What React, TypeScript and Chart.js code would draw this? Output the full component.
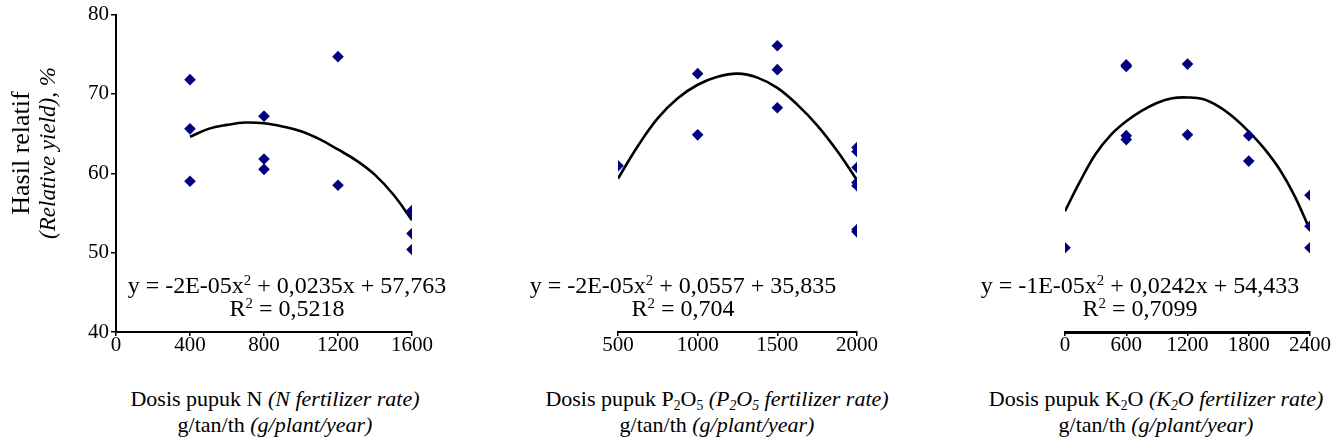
import React, { useEffect, useRef } from "react";
import { Chart, registerables } from "chart.js";

Chart.register(...registerables);

// ---- Data ----
const nDose = [400, 400, 400, 800, 800, 800, 1200, 1200, 1600, 1600, 1600, 1600];
const nYield = [71.8, 65.6, 59.0, 67.2, 61.8, 60.5, 74.7, 58.5, 55.3, 55.0, 52.4, 50.4];
const nTrendDose = [400, 500, 600, 700, 800, 900, 1000, 1100, 1200, 1300, 1400, 1500, 1600];
const nTrendYield = [64.6, 65.6, 66.1, 66.4, 66.3, 65.9, 65.3, 64.3, 63.0, 61.6, 59.8, 57.3, 54.1];

const pDose = [500, 1000, 1000, 1500, 1500, 1500, 2000, 2000, 2000, 2000, 2000, 2000, 2000];
const pYield = [60.9, 72.5, 64.8, 76.0, 73.0, 68.2, 63.2, 62.7, 60.7, 58.8, 58.4, 52.9, 52.6];
const pTrendDose = [500, 625, 750, 875, 1000, 1125, 1250, 1375, 1500, 1625, 1750, 1875, 2000];
const pTrendYield = [59.3, 63.4, 66.9, 69.4, 71.1, 72.1, 72.5, 72.0, 70.7, 68.6, 66.0, 62.8, 59.1];

const kDose = [0, 600, 600, 600, 600, 1200, 1200, 1800, 1800, 2400, 2400, 2400];
const kYield = [50.6, 73.6, 73.4, 64.7, 64.2, 73.7, 64.8, 64.7, 61.5, 57.2, 53.3, 50.6];
const kTrendDose = [0, 150, 300, 450, 600, 750, 900, 1050, 1200, 1350, 1500, 1650, 1800, 1950, 2100, 2250, 2400];
const kTrendYield = [55.2, 59.0, 62.4, 64.8, 66.5, 67.8, 68.8, 69.4, 69.5, 69.3, 68.4, 67.0, 65.2, 63.1, 60.5, 57.1, 52.8];

const nTicks = [0, 400, 800, 1200, 1600];
const pTicks = [500, 1000, 1500, 2000];
const kTicks = [0, 600, 1200, 1800, 2400];
const yTicks = [40, 50, 60, 70, 80];

const FONT = "'Liberation Serif', 'Times New Roman', serif";

type PanelProps = {
  left: number;
  width: number;
  padLeft: number;
  padRight: number;
  showY: boolean;
  xMin: number;
  xMax: number;
  xTicks: number[];
  dose: number[];
  yld: number[];
  trendDose: number[];
  trendYield: number[];
  borderX: number;
};

const H = 360;

function Panel(p: PanelProps) {
  const ref = useRef<HTMLCanvasElement>(null);
  useEffect(() => {
    let alive = true;
    const chart = new Chart(ref.current as HTMLCanvasElement, {
      type: "scatter",
      data: {
        datasets: [
          {
            type: "line",
            data: p.trendDose.map((x, i) => ({ x, y: p.trendYield[i] })),
            borderColor: "#000",
            borderWidth: 2.6,
            pointRadius: 0,
            tension: 0.4,
            fill: false,
            order: 1,
          } as any,
          {
            data: p.dose.map((x, i) => ({ x, y: p.yld[i] })),
            pointStyle: "rectRot",
            pointRadius: 5.8,
            pointHoverRadius: 5.8,
            backgroundColor: "#000080",
            borderColor: "#000080",
            borderWidth: 0,
            order: 0,
          },
        ],
      },
      options: {
        responsive: false,
        animation: false,
        events: [],
        layout: { padding: { top: 14, left: p.padLeft, right: p.padRight, bottom: 0 } },
        plugins: { legend: { display: false }, tooltip: { enabled: false } },
        scales: {
          x: {
            type: "linear",
            min: p.xMin,
            max: p.xMax,
            afterBuildTicks: (s: any) => {
              s.ticks = p.xTicks.map((v) => ({ value: v }));
            },
            afterFit: (s: any) => {
              s.height = 28;
            },
            border: { display: true, color: "#000", width: p.borderX },
            grid: {
              display: true,
              drawOnChartArea: false,
              drawTicks: true,
              tickLength: 4,
              color: "#000",
              lineWidth: 1.5,
            },
            ticks: {
              color: "#000",
              font: { family: FONT, size: 21 },
              padding: -3,
              maxRotation: 0,
              autoSkip: false,
              callback: (v: any) => String(v),
            },
          },
          y: {
            type: "linear",
            display: p.showY,
            min: 40,
            max: 80,
            afterBuildTicks: (s: any) => {
              s.ticks = yTicks.map((v) => ({ value: v }));
            },
            afterFit: (s: any) => {
              s.width = 116;
            },
            border: { display: true, color: "#000", width: 2 },
            grid: {
              display: true,
              drawOnChartArea: false,
              drawTicks: true,
              tickLength: 5,
              color: "#000",
              lineWidth: 1.5,
            },
            ticks: {
              color: "#000",
              font: { family: FONT, size: 21 },
              padding: 2,
              autoSkip: false,
              callback: (v: any) => String(v),
            },
          },
        },
      },
    });
    const redraw = () => {
      if (alive) chart.update();
    };
    if ((document as any).fonts && (document as any).fonts.load) {
      (document as any).fonts.load('21px "Liberation Serif"').then(redraw, redraw);
    }
    return () => {
      alive = false;
      chart.destroy();
    };
  }, []);
  return (
    <canvas
      ref={ref}
      width={p.width}
      height={H}
      style={{ position: "absolute", left: p.left, top: 0, width: p.width, height: H }}
    />
  );
}

const sup: React.CSSProperties = { fontSize: "0.62em", verticalAlign: "0.55em", lineHeight: 0 };
const sub: React.CSSProperties = { fontSize: "0.62em", verticalAlign: "-0.3em", lineHeight: 0 };

function Equation({ cx, line1, r2 }: { cx: number; line1: React.ReactNode; r2: string }) {
  return (
    <div
      style={{
        position: "absolute",
        left: cx - 200,
        top: 274,
        width: 400,
        textAlign: "center",
        fontFamily: FONT,
        fontSize: 24,
        lineHeight: "23px",
        color: "#000",
        whiteSpace: "nowrap",
      }}
    >
      <div>{line1}</div>
      <div>
        R<span style={sup}>2</span> = {r2}
      </div>
    </div>
  );
}

function XLabel({ cx, line1 }: { cx: number; line1: React.ReactNode }) {
  return (
    <div
      style={{
        position: "absolute",
        left: cx - 220,
        top: 386,
        width: 440,
        textAlign: "center",
        fontFamily: FONT,
        fontSize: 22,
        lineHeight: "26px",
        color: "#000",
        whiteSpace: "nowrap",
      }}
    >
      <div>{line1}</div>
      <div>
        g/tan/th <i>(g/plant/year)</i>
      </div>
    </div>
  );
}

export default function App() {
  return (
    <div
      style={{
        position: "absolute",
        left: 0,
        top: 0,
        width: 1338,
        height: 448,
        background: "#fff",
        overflow: "hidden",
      }}
    >
      <Panel
        left={0}
        width={440}
        padLeft={0}
        padRight={28}
        showY={true}
        xMin={0}
        xMax={1600}
        xTicks={nTicks}
        dose={nDose}
        yld={nYield}
        trendDose={nTrendDose}
        trendYield={nTrendYield}
        borderX={2}
      />
      <Panel
        left={460}
        width={420}
        padLeft={42}
        padRight={23}
        showY={false}
        xMin={500}
        xMax={2000}
        xTicks={pTicks}
        dose={pDose}
        yld={pYield}
        trendDose={pTrendDose}
        trendYield={pTrendYield}
        borderX={2}
      />
      <Panel
        left={900}
        width={438}
        padLeft={49}
        padRight={28}
        showY={false}
        xMin={0}
        xMax={2400}
        xTicks={kTicks}
        dose={kDose}
        yld={kYield}
        trendDose={kTrendDose}
        trendYield={kTrendYield}
        borderX={3}
      />

      {/* Y axis title */}
      <div
        style={{
          position: "absolute",
          left: 34 - 110,
          top: 153 - 27,
          width: 220,
          height: 54,
          transform: "rotate(-90deg)",
          transformOrigin: "50% 50%",
          textAlign: "center",
          fontFamily: FONT,
          fontSize: 24,
          lineHeight: "27px",
          color: "#000",
          whiteSpace: "nowrap",
        }}
      >
        <div style={{ fontSize: 26 }}>Hasil relatif</div>
        <div style={{ fontSize: 23 }}>
          <i>(Relative yield), %</i>
        </div>
      </div>

      <Equation
        cx={287}
        line1={
          <>
            y = -2E-05x<span style={sup}>2</span> + 0,0235x + 57,763
          </>
        }
        r2="0,5218"
      />
      <Equation
        cx={683}
        line1={
          <>
            y = -2E-05x<span style={sup}>2</span> + 0,0557 + 35,835
          </>
        }
        r2="0,704"
      />
      <Equation
        cx={1140}
        line1={
          <>
            y = -1E-05x<span style={sup}>2</span> + 0,0242x + 54,433
          </>
        }
        r2="0,7099"
      />

      <XLabel
        cx={275}
        line1={
          <>
            Dosis pupuk N <i>(N fertilizer rate)</i>
          </>
        }
      />
      <XLabel
        cx={717}
        line1={
          <>
            Dosis pupuk P<span style={sub}>2</span>O<span style={sub}>5</span>{" "}
            <i>
              (P<span style={sub}>2</span>O<span style={sub}>5</span> fertilizer rate)
            </i>
          </>
        }
      />
      <XLabel
        cx={1156}
        line1={
          <>
            Dosis pupuk K<span style={sub}>2</span>O{" "}
            <i>
              (K<span style={sub}>2</span>O fertilizer rate)
            </i>
          </>
        }
      />
    </div>
  );
}
